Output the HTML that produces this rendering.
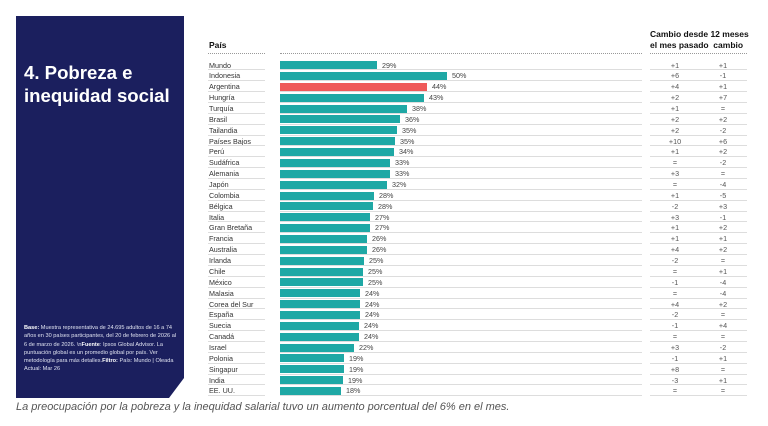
<!DOCTYPE html>
<html><head><meta charset="utf-8"><style>
body{margin:0;width:768px;height:426px;background:#fff;position:relative;overflow:hidden;font-family:"Liberation Sans",sans-serif}
.panel{position:absolute;left:16px;top:16px;width:168px;height:382px;background:#1b1f5e;clip-path:polygon(0 0,100% 0,100% 362px,153px 100%,0 100%)}
.title{position:absolute;left:24px;top:61px;color:#fff;font-weight:bold;font-size:18.6px;line-height:23px}
.note{position:absolute;left:24px;top:324px;width:155px;color:#dfe2f0;font-size:5.6px;line-height:8.3px}
.hdr{position:absolute;font-weight:bold;font-size:8.5px;color:#111}
.dots{position:absolute;top:53px;height:0;border-top:1px dotted #999}
.rows{position:absolute;left:0;top:59.6px;width:768px}
.r{position:relative;height:10.87px;font-size:7.2px;color:#333}
.r span{position:absolute;top:1px;line-height:9px}
.l{left:209px}
.b{position:absolute;left:280px;top:1.6px;height:8px;background:#1fa8a5}
.v{color:#444}
.c1{left:650px;width:50px;text-align:center;color:#555}
.c2{left:700px;width:46px;text-align:center;color:#555}
.ln{position:absolute;bottom:0;height:1px;background:#ddd}
.cap{position:absolute;left:16px;top:401px;font-style:italic;font-size:11px;color:#555}
</style></head><body>
<div class="panel"></div>
<div class="title">4. Pobreza e<br>inequidad social</div>
<div class="note"><b style="color:#fff">Base:</b> Muestra representativa de 24.695 adultos de 16 a 74 años en 30 países participantes, del 20 de febrero de 2026 al 6 de marzo de 2026. \n<b style="color:#fff">Fuente</b>: Ipsos Global Advisor. La puntuación global es un promedio global por país. Ver metodología para más detalles.<b style="color:#fff">Filtro:</b> País: Mundo | Oleada Actual: Mar 26</div>
<div class="hdr" style="left:209px;top:40px">País</div>
<div class="hdr" style="left:650px;top:29px;line-height:11px">Cambio desde 12 meses<br>el mes pasado&nbsp;&nbsp;cambio</div>
<div class="dots" style="left:208px;width:57px"></div>
<div class="dots" style="left:280px;width:362px"></div>
<div class="dots" style="left:650px;width:97px"></div>
<div class="rows">
<div class="r"><span class="l">Mundo</span><div class="b" style="width:97px"></div><span class="v" style="left:382px">29%</span><span class="c1">+1</span><span class="c2">+1</span><div class="ln" style="left:208px;width:57px"></div><div class="ln" style="left:280px;width:362px"></div><div class="ln" style="left:650px;width:97px"></div></div>
<div class="r"><span class="l">Indonesia</span><div class="b" style="width:167px"></div><span class="v" style="left:452px">50%</span><span class="c1">+6</span><span class="c2">-1</span><div class="ln" style="left:208px;width:57px"></div><div class="ln" style="left:280px;width:362px"></div><div class="ln" style="left:650px;width:97px"></div></div>
<div class="r"><span class="l">Argentina</span><div class="b" style="width:147px;background:#ef5a5a"></div><span class="v" style="left:432px">44%</span><span class="c1">+4</span><span class="c2">+1</span><div class="ln" style="left:208px;width:57px"></div><div class="ln" style="left:280px;width:362px"></div><div class="ln" style="left:650px;width:97px"></div></div>
<div class="r"><span class="l">Hungría</span><div class="b" style="width:144px"></div><span class="v" style="left:429px">43%</span><span class="c1">+2</span><span class="c2">+7</span><div class="ln" style="left:208px;width:57px"></div><div class="ln" style="left:280px;width:362px"></div><div class="ln" style="left:650px;width:97px"></div></div>
<div class="r"><span class="l">Turquía</span><div class="b" style="width:127px"></div><span class="v" style="left:412px">38%</span><span class="c1">+1</span><span class="c2">=</span><div class="ln" style="left:208px;width:57px"></div><div class="ln" style="left:280px;width:362px"></div><div class="ln" style="left:650px;width:97px"></div></div>
<div class="r"><span class="l">Brasil</span><div class="b" style="width:120px"></div><span class="v" style="left:405px">36%</span><span class="c1">+2</span><span class="c2">+2</span><div class="ln" style="left:208px;width:57px"></div><div class="ln" style="left:280px;width:362px"></div><div class="ln" style="left:650px;width:97px"></div></div>
<div class="r"><span class="l">Tailandia</span><div class="b" style="width:117px"></div><span class="v" style="left:402px">35%</span><span class="c1">+2</span><span class="c2">-2</span><div class="ln" style="left:208px;width:57px"></div><div class="ln" style="left:280px;width:362px"></div><div class="ln" style="left:650px;width:97px"></div></div>
<div class="r"><span class="l">Países Bajos</span><div class="b" style="width:115px"></div><span class="v" style="left:400px">35%</span><span class="c1">+10</span><span class="c2">+6</span><div class="ln" style="left:208px;width:57px"></div><div class="ln" style="left:280px;width:362px"></div><div class="ln" style="left:650px;width:97px"></div></div>
<div class="r"><span class="l">Perú</span><div class="b" style="width:114px"></div><span class="v" style="left:399px">34%</span><span class="c1">+1</span><span class="c2">+2</span><div class="ln" style="left:208px;width:57px"></div><div class="ln" style="left:280px;width:362px"></div><div class="ln" style="left:650px;width:97px"></div></div>
<div class="r"><span class="l">Sudáfrica</span><div class="b" style="width:110px"></div><span class="v" style="left:395px">33%</span><span class="c1">=</span><span class="c2">-2</span><div class="ln" style="left:208px;width:57px"></div><div class="ln" style="left:280px;width:362px"></div><div class="ln" style="left:650px;width:97px"></div></div>
<div class="r"><span class="l">Alemania</span><div class="b" style="width:110px"></div><span class="v" style="left:395px">33%</span><span class="c1">+3</span><span class="c2">=</span><div class="ln" style="left:208px;width:57px"></div><div class="ln" style="left:280px;width:362px"></div><div class="ln" style="left:650px;width:97px"></div></div>
<div class="r"><span class="l">Japón</span><div class="b" style="width:107px"></div><span class="v" style="left:392px">32%</span><span class="c1">=</span><span class="c2">-4</span><div class="ln" style="left:208px;width:57px"></div><div class="ln" style="left:280px;width:362px"></div><div class="ln" style="left:650px;width:97px"></div></div>
<div class="r"><span class="l">Colombia</span><div class="b" style="width:94px"></div><span class="v" style="left:379px">28%</span><span class="c1">+1</span><span class="c2">-5</span><div class="ln" style="left:208px;width:57px"></div><div class="ln" style="left:280px;width:362px"></div><div class="ln" style="left:650px;width:97px"></div></div>
<div class="r"><span class="l">Bélgica</span><div class="b" style="width:93px"></div><span class="v" style="left:378px">28%</span><span class="c1">-2</span><span class="c2">+3</span><div class="ln" style="left:208px;width:57px"></div><div class="ln" style="left:280px;width:362px"></div><div class="ln" style="left:650px;width:97px"></div></div>
<div class="r"><span class="l">Italia</span><div class="b" style="width:90px"></div><span class="v" style="left:375px">27%</span><span class="c1">+3</span><span class="c2">-1</span><div class="ln" style="left:208px;width:57px"></div><div class="ln" style="left:280px;width:362px"></div><div class="ln" style="left:650px;width:97px"></div></div>
<div class="r"><span class="l">Gran Bretaña</span><div class="b" style="width:90px"></div><span class="v" style="left:375px">27%</span><span class="c1">+1</span><span class="c2">+2</span><div class="ln" style="left:208px;width:57px"></div><div class="ln" style="left:280px;width:362px"></div><div class="ln" style="left:650px;width:97px"></div></div>
<div class="r"><span class="l">Francia</span><div class="b" style="width:87px"></div><span class="v" style="left:372px">26%</span><span class="c1">+1</span><span class="c2">+1</span><div class="ln" style="left:208px;width:57px"></div><div class="ln" style="left:280px;width:362px"></div><div class="ln" style="left:650px;width:97px"></div></div>
<div class="r"><span class="l">Australia</span><div class="b" style="width:87px"></div><span class="v" style="left:372px">26%</span><span class="c1">+4</span><span class="c2">+2</span><div class="ln" style="left:208px;width:57px"></div><div class="ln" style="left:280px;width:362px"></div><div class="ln" style="left:650px;width:97px"></div></div>
<div class="r"><span class="l">Irlanda</span><div class="b" style="width:84px"></div><span class="v" style="left:369px">25%</span><span class="c1">-2</span><span class="c2">=</span><div class="ln" style="left:208px;width:57px"></div><div class="ln" style="left:280px;width:362px"></div><div class="ln" style="left:650px;width:97px"></div></div>
<div class="r"><span class="l">Chile</span><div class="b" style="width:83px"></div><span class="v" style="left:368px">25%</span><span class="c1">=</span><span class="c2">+1</span><div class="ln" style="left:208px;width:57px"></div><div class="ln" style="left:280px;width:362px"></div><div class="ln" style="left:650px;width:97px"></div></div>
<div class="r"><span class="l">México</span><div class="b" style="width:83px"></div><span class="v" style="left:368px">25%</span><span class="c1">-1</span><span class="c2">-4</span><div class="ln" style="left:208px;width:57px"></div><div class="ln" style="left:280px;width:362px"></div><div class="ln" style="left:650px;width:97px"></div></div>
<div class="r"><span class="l">Malasia</span><div class="b" style="width:80px"></div><span class="v" style="left:365px">24%</span><span class="c1">=</span><span class="c2">-4</span><div class="ln" style="left:208px;width:57px"></div><div class="ln" style="left:280px;width:362px"></div><div class="ln" style="left:650px;width:97px"></div></div>
<div class="r"><span class="l">Corea del Sur</span><div class="b" style="width:80px"></div><span class="v" style="left:365px">24%</span><span class="c1">+4</span><span class="c2">+2</span><div class="ln" style="left:208px;width:57px"></div><div class="ln" style="left:280px;width:362px"></div><div class="ln" style="left:650px;width:97px"></div></div>
<div class="r"><span class="l">España</span><div class="b" style="width:80px"></div><span class="v" style="left:365px">24%</span><span class="c1">-2</span><span class="c2">=</span><div class="ln" style="left:208px;width:57px"></div><div class="ln" style="left:280px;width:362px"></div><div class="ln" style="left:650px;width:97px"></div></div>
<div class="r"><span class="l">Suecia</span><div class="b" style="width:79px"></div><span class="v" style="left:364px">24%</span><span class="c1">-1</span><span class="c2">+4</span><div class="ln" style="left:208px;width:57px"></div><div class="ln" style="left:280px;width:362px"></div><div class="ln" style="left:650px;width:97px"></div></div>
<div class="r"><span class="l">Canadá</span><div class="b" style="width:79px"></div><span class="v" style="left:364px">24%</span><span class="c1">=</span><span class="c2">=</span><div class="ln" style="left:208px;width:57px"></div><div class="ln" style="left:280px;width:362px"></div><div class="ln" style="left:650px;width:97px"></div></div>
<div class="r"><span class="l">Israel</span><div class="b" style="width:74px"></div><span class="v" style="left:359px">22%</span><span class="c1">+3</span><span class="c2">-2</span><div class="ln" style="left:208px;width:57px"></div><div class="ln" style="left:280px;width:362px"></div><div class="ln" style="left:650px;width:97px"></div></div>
<div class="r"><span class="l">Polonia</span><div class="b" style="width:64px"></div><span class="v" style="left:349px">19%</span><span class="c1">-1</span><span class="c2">+1</span><div class="ln" style="left:208px;width:57px"></div><div class="ln" style="left:280px;width:362px"></div><div class="ln" style="left:650px;width:97px"></div></div>
<div class="r"><span class="l">Singapur</span><div class="b" style="width:64px"></div><span class="v" style="left:349px">19%</span><span class="c1">+8</span><span class="c2">=</span><div class="ln" style="left:208px;width:57px"></div><div class="ln" style="left:280px;width:362px"></div><div class="ln" style="left:650px;width:97px"></div></div>
<div class="r"><span class="l">India</span><div class="b" style="width:63px"></div><span class="v" style="left:348px">19%</span><span class="c1">-3</span><span class="c2">+1</span><div class="ln" style="left:208px;width:57px"></div><div class="ln" style="left:280px;width:362px"></div><div class="ln" style="left:650px;width:97px"></div></div>
<div class="r"><span class="l">EE. UU.</span><div class="b" style="width:61px"></div><span class="v" style="left:346px">18%</span><span class="c1">=</span><span class="c2">=</span><div class="ln" style="left:208px;width:57px"></div><div class="ln" style="left:280px;width:362px"></div><div class="ln" style="left:650px;width:97px"></div></div>
</div>
<div class="cap">La preocupación por la pobreza y la inequidad salarial tuvo un aumento porcentual del 6% en el mes.</div>
</body></html>
